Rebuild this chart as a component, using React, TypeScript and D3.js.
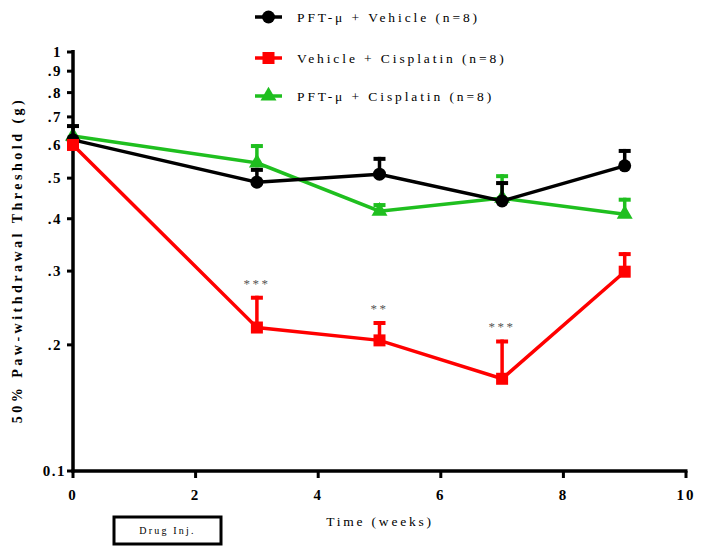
import React from "react";
import * as d3 from "d3";

const weeks = [0, 3, 5, 7, 9];
const seriesNames = ["PFT-μ + Vehicle (n=8)", "Vehicle + Cisplatin (n=8)", "PFT-μ + Cisplatin (n=8)"];
const pftVehicle = [0.617, 0.489, 0.511, 0.441, 0.535];
const pftVehicleErr = [0.673, 0.529, 0.562, 0.492, 0.587];
const vehCis = [0.6, 0.22, 0.205, 0.166, 0.299];
const vehCisErr = [0.6, 0.262, 0.228, 0.206, 0.333];
const pftCis = [0.63, 0.544, 0.417, 0.448, 0.41];
const pftCisErr = [0.63, 0.603, 0.436, 0.511, 0.449];
const sigLabels = ["", "***", "**", "***", ""];
const yTicks = [0.1, 0.2, 0.3, 0.4, 0.5, 0.6, 0.7, 0.8, 0.9, 1];
const yTickLabels = ["0.1", ".2", ".3", ".4", ".5", ".6", ".7", ".8", ".9", "1"];
const xTicks = [0, 2, 4, 6, 8, 10];

const W = 704, H = 554;
const x = d3.scaleLinear().domain([0, 10]).range([73, 686]);
const y = d3.scaleLog().domain([0.1, 1]).range([471, 52]);

const colors = ["#000000", "#ff0000", "#1fbf1f"];
const series = [
  { name: seriesNames[0], vals: pftVehicle, errs: pftVehicleErr, color: colors[0], shape: "circle" },
  { name: seriesNames[1], vals: vehCis, errs: vehCisErr, color: colors[1], shape: "square" },
  { name: seriesNames[2], vals: pftCis, errs: pftCisErr, color: colors[2], shape: "triangle" },
];
const drawOrder = [2, 0, 1];
const serif = "'Liberation Serif', 'DejaVu Serif', serif";

function Marker({ shape, cx, cy, color }: { shape: string; cx: number; cy: number; color: string }) {
  if (shape === "circle") return <circle cx={cx} cy={cy} r={6.5} fill={color} />;
  if (shape === "square") return <rect x={cx - 6} y={cy - 6} width={12} height={12} fill={color} />;
  const tri = d3.symbol().type(d3.symbolTriangle).size(110)();
  return <path d={tri || ""} transform={`translate(${cx},${cy})`} fill={color} />;
}

export default function App() {
  const line = d3.line<number>().x((_, i) => x(weeks[i])).y((v) => y(v));
  return (
    <svg width={W} height={H} style={{ position: "absolute", left: 0, top: 0, background: "#fff" }}>
      {/* Y axis */}
      <line x1={x(0)} x2={x(0)} y1={y(1) - 2} y2={y(0.1) + 1.5} stroke="#000" strokeWidth={3.5} />
      {yTicks.map((t, i) => (
        <g key={t}>
          <line x1={x(0) - 6} x2={x(0)} y1={y(t)} y2={y(t)} stroke="#000" strokeWidth={3} />
          <text x={i === 0 ? 66 : 62} y={y(t)} dy="0.35em" textAnchor="end" fontFamily={serif} fontWeight="bold" fontSize={15} letterSpacing={1.5}>
            {yTickLabels[i]}
          </text>
        </g>
      ))}
      {/* X axis */}
      <line x1={x(0) - 1.5} x2={x(10) + 1.5} y1={y(0.1)} y2={y(0.1)} stroke="#000" strokeWidth={3.5} />
      {xTicks.map((t) => (
        <g key={t}>
          <line x1={x(t)} x2={x(t)} y1={y(0.1)} y2={y(0.1) + 7} stroke="#000" strokeWidth={3} />
          <text x={x(t)} y={y(0.1) + 29} textAnchor="middle" fontFamily={serif} fontWeight="bold" fontSize={15} letterSpacing={2}>
            {t}
          </text>
        </g>
      ))}
      {/* Axis titles */}
      <text transform={`translate(22,260) rotate(-90)`} textAnchor="middle" fontFamily={serif} fontWeight="bold" fontSize={14} letterSpacing={3.5}>
        50% Paw-withdrawal Threshold (g)
      </text>
      <text x={380} y={526} textAnchor="middle" fontFamily={serif} fontSize={13.5} letterSpacing={2.8}>
        Time (weeks)
      </text>
      {/* Drug Inj. box */}
      <rect x={114} y={517} width={107} height={27} fill="none" stroke="#000" strokeWidth={3} />
      <text x={167.5} y={534} textAnchor="middle" fontFamily={serif} fontSize={10} letterSpacing={2.2}>
        Drug Inj.
      </text>
      {/* Data */}
      {drawOrder.map((si) => {
        const s = series[si];
        return (
          <g key={s.name}>
            <path d={line(s.vals) || ""} fill="none" stroke={s.color} strokeWidth={3.5} />
            {s.vals.map((v, i) =>
              s.errs[i] > v ? (
                <g key={i}>
                  <line x1={x(weeks[i])} x2={x(weeks[i])} y1={y(v)} y2={y(s.errs[i])} stroke={s.color} strokeWidth={3.5} />
                  <line x1={x(weeks[i]) - 6} x2={x(weeks[i]) + 6} y1={y(s.errs[i]) + 2} y2={y(s.errs[i]) + 2} stroke={s.color} strokeWidth={4} />
                </g>
              ) : null
            )}
            {s.vals.map((v, i) => (
              <Marker key={"m" + i} shape={s.shape} cx={x(weeks[i])} cy={y(v)} color={s.color} />
            ))}
          </g>
        );
      })}
      {/* significance */}
      {sigLabels.map((l, i) =>
        l ? (
          <text key={i} x={x(weeks[i])} y={y(vehCisErr[i]) - 8} textAnchor="middle" fontFamily={serif} fontSize={13} fill="#555" letterSpacing={2.5}>
            {l}
          </text>
        ) : null
      )}
      {/* Legend */}
      {series.map((s, i) => {
        const ly = [17, 58, 96][i];
        return (
          <g key={s.name}>
            <line x1={255} x2={282} y1={ly} y2={ly} stroke={s.color} strokeWidth={3.5} />
            <Marker shape={s.shape} cx={268.5} cy={ly} color={s.color} />
            <text x={297} y={ly} dy="0.35em" fontFamily={serif} fontSize={13.5} letterSpacing={2.9}>
              {s.name}
            </text>
          </g>
        );
      })}
    </svg>
  );
}
